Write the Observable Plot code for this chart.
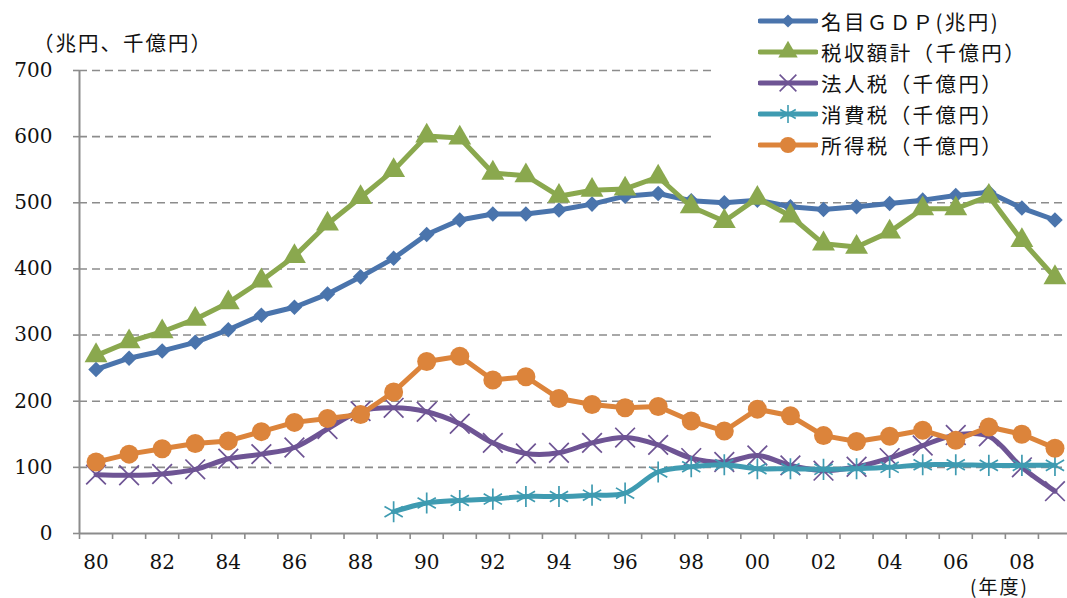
<!DOCTYPE html>
<html>
<head>
<meta charset="utf-8">
<script src="https://cdn.jsdelivr.net/npm/d3@7"></script>
<script src="https://cdn.jsdelivr.net/npm/@observablehq/plot@0.6"></script>
<style>
  body { margin: 0; background: white; overflow: hidden; }
  #wrap { position: relative; width: 1067px; height: 598px; overflow: hidden; }
  #wrap svg { max-width: none !important; }
  .jp { position: absolute; font-family: "Noto Sans CJK JP", sans-serif; color: #111; white-space: nowrap; line-height: 1; }
  #legend { position: absolute; left: 716px; top: 0; width: 351px; height: 163px; background: white; }
  .row { position: absolute; left: 42px; height: 30px; display: flex; align-items: center; }
  .row span { font-family: "Noto Sans CJK JP", sans-serif; font-size: 20.5px; letter-spacing: 2.4px; margin-left: 3px; color: #111; }
</style>
</head>
<body>
<div id="wrap">
  <div id="chart"></div>
  <div class="jp" style="left:33px; top:32px; font-size:20.5px; letter-spacing:2px;">（兆円、千億円）</div>
  <div class="jp" style="left:970px; top:576px; font-size:19px; letter-spacing:2px;">(年度)</div>
  <div id="legend"></div>
</div>
<script>
// 年度 (1980-2009)
const years = [1980,1981,1982,1983,1984,1985,1986,1987,1988,1989,1990,1991,1992,1993,1994,
               1995,1996,1997,1998,1999,2000,2001,2002,2003,2004,2005,2006,2007,2008,2009]
// 名目GDP(兆円)
const gdp = [248,265,276,289,308,330,342,362,388,416,452,474,483,483,489,
             498,510,514,503,500,504,494,490,494,499,504,511,516,492,474]
// 税収額計(千億円)
const taxTotal = [269,290,305,324,349,382,419,468,508,549,601,598,545,541,510,
                  519,521,539,494,472,507,480,438,433,456,491,491,510,443,387]
// 法人税
const corpTax = [89,88,90,97,113,120,130,158,185,190,184,166,137,121,122,
                 137,145,134,114,108,118,103,95,101,114,133,149,147,100,64]
// 消費税 (1989年度から)
const consTax = [null,null,null,null,null,null,null,null,null,33,46,50,52,56,56,
                 58,61,93,101,104,98,98,97,98,100,104,104,103,103,103]
// 所得税
const incomeTax = [108,120,128,136,140,154,168,174,180,214,260,268,232,237,204,
                   195,190,192,170,155,188,178,148,139,147,156,141,161,150,129]

const yTicks = [0,100,200,300,400,500,600,700]
const labelYears = [1980,1982,1984,1986,1988,1990,1992,1994,1996,1998,2000,2002,2004,2006,2008]
const bounds = years.map(y => y - 0.5).concat([2009.5])

const serif = "'DejaVu Serif', serif"

const series = [
  {name: "名目ＧＤＰ(兆円)", values: gdp, color: "#4A74AC", symbol: "diamond2", r: 7, fill: true, curve: "linear"},
  {name: "税収額計（千億円）", values: taxTotal, color: "#8AA84E", symbol: "triangle", r: 8.5, fill: true, curve: "linear"},
  {name: "法人税（千億円）", values: corpTax, color: "#6E5494", symbol: "times", r: 9, fill: false, curve: "catmull-rom"},
  {name: "消費税（千億円）", values: consTax, color: "#3F9BB1", symbol: "asterisk", r: 10, fill: false, curve: "catmull-rom"},
  {name: "所得税（千億円）", values: incomeTax, color: "#DC843B", symbol: "circle", r: 9.5, fill: true, curve: "linear"}
]

const seriesMarks = series.flatMap(s => {
  const rows = years.map((yr, i) => ({year: yr, v: s.values[i]})).filter(d => d.v != null)
  return [
    Plot.line(rows, {x: "year", y: "v", stroke: s.color, strokeWidth: 5, curve: s.curve}),
    Plot.dot(rows, s.fill
      ? {x: "year", y: "v", symbol: () => s.symbol, r: s.r, fill: s.color, stroke: "none"}
      : {x: "year", y: "v", symbol: () => s.symbol, r: s.r, fill: "none", stroke: s.color, strokeWidth: 1.7})
  ]
})

const chart = Plot.plot({
  width: 1071,
  height: 598,
  marginLeft: 79,
  marginRight: 0,
  marginTop: 70,
  marginBottom: 65,
  style: {background: "white", color: "#111", fontFamily: serif, fontSize: "20px"},
  x: {type: "linear", domain: [1979.5, 2009.5]},
  y: {domain: [0, 700]},
  marks: [
    Plot.gridY({ticks: yTicks.slice(1), stroke: "#8c8c8c", strokeOpacity: 1, strokeWidth: 1.6, strokeDasharray: "8,5"}),
    Plot.axisY({ticks: yTicks, tickSize: 6, tickPadding: 21, stroke: "#8c8c8c", strokeWidth: 1.6, label: null,
      fontFamily: serif, fontSize: 20, fill: "#111"}),
    Plot.axisX({ticks: bounds, tickSize: 6, tickFormat: () => "", stroke: "#8c8c8c", strokeWidth: 1.6, label: null}),
    Plot.axisX({ticks: labelYears, tickSize: 0, tickPadding: 21, tickFormat: d => String(d % 100).padStart(2, "0"), label: null,
      fontFamily: serif, fontSize: 20, fill: "#111"}),
    Plot.ruleX([1979.5], {stroke: "#8c8c8c", strokeWidth: 2}),
    Plot.ruleY([0], {stroke: "#8c8c8c", strokeWidth: 2}),
    ...seriesMarks
  ]
})

d3.select("#chart").append(() => chart)

// 凡例
const symbolTypes = {diamond2: d3.symbolDiamond2, triangle: d3.symbolTriangle, times: d3.symbolTimes, asterisk: d3.symbolAsterisk, circle: d3.symbolCircle}
const legend = d3.select("#legend")
series.forEach((s, i) => {
  const row = legend.append("div").attr("class", "row").style("top", (6 + i * 31) + "px")
  const svg = row.append("svg").attr("width", 60).attr("height", 24)
  svg.append("line").attr("x1", 2).attr("x2", 58).attr("y1", 12).attr("y2", 12)
    .attr("stroke", s.color).attr("stroke-width", 5).attr("stroke-linecap", "round")
  svg.append("path")
    .attr("transform", "translate(30,12)")
    .attr("d", d3.symbol(symbolTypes[s.symbol], Math.PI * (s.r * 0.85) ** 2)())
    .attr("fill", s.fill ? s.color : "none")
    .attr("stroke", s.fill ? "none" : s.color)
    .attr("stroke-width", 1.6)
  row.append("span").text(s.name)
})
</script>
</body>
</html>
